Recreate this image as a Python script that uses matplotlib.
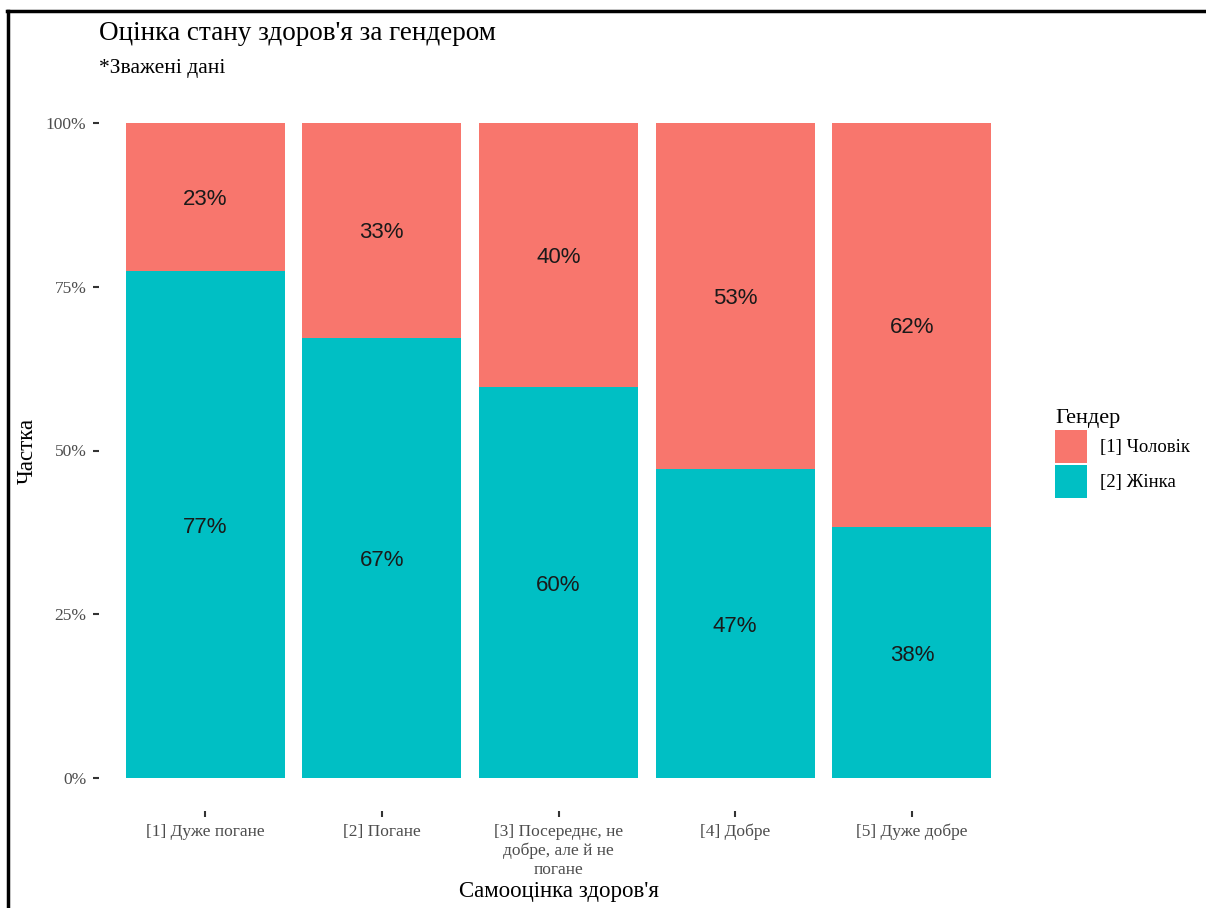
import matplotlib
matplotlib.use("Agg")
import matplotlib.pyplot as plt
from matplotlib.lines import Line2D
from matplotlib.patches import Patch

categories = ["[1] Дуже погане", "[2] Погане", "[3] Посереднє, не\nдобре, але й не\nпогане",
              "[4] Добре", "[5] Дуже добре"]
women = [0.774, 0.672, 0.597, 0.472, 0.383]
men = [0.226, 0.328, 0.403, 0.528, 0.617]
series_names = ["[1] Чоловік", "[2] Жінка"]
colors = ["#F8766D", "#00BFC4"]
yticks = [0, 0.25, 0.5, 0.75, 1.0]
ytick_labels = ["0%", "25%", "50%", "75%", "100%"]

plt.rcParams['font.family'] = ['Liberation Serif', 'DejaVu Serif']

W, H = 1206, 908
fig = plt.figure(figsize=(W / 100, H / 100), dpi=100)

# plot panel in pixel coords
left, right, top, bottom = 99, 1018, 90, 811
ax = fig.add_axes([left / W, (H - bottom) / H, (right - left) / W, (bottom - top) / H])

x = range(len(categories))
ax.bar(x, women, width=0.9, color=colors[1])
ax.bar(x, men, width=0.9, bottom=women, color=colors[0])

for i in x:
    ax.text(i, women[i] / 2, f"{round(women[i] * 100)}%", ha="center", va="center_baseline",
            fontsize=16, family="Liberation Sans", color="#1a1a1a")
    ax.text(i, women[i] + men[i] / 2, f"{round(men[i] * 100)}%", ha="center", va="center_baseline",
            fontsize=16, family="Liberation Sans", color="#1a1a1a")

ax.set_xlim(-0.6, len(categories) - 0.4)
ax.set_ylim(-0.05, 1.05)
ax.set_xticks(list(x))
ax.set_xticklabels(categories, fontsize=12.5, color="#4d4d4d", linespacing=1.25)
ax.set_yticks(yticks)
ax.set_yticklabels(ytick_labels, fontsize=12.5, color="#4d4d4d")
ax.tick_params(axis="both", length=4, width=1.5, color="#333333", pad=5)
for s in ax.spines.values():
    s.set_visible(False)

ax.set_xlabel("Самооцінка здоров'я", fontsize=16.5, labelpad=2)
ax.set_ylabel("Частка", fontsize=16.5, labelpad=6)

fig.text(99 / W, 1 - 34 / H, "Оцінка стану здоров'я за гендером", fontsize=19.5, va="center", ha="left")
fig.text(99 / W, 1 - 68 / H, "*Зважені дані", fontsize=15.5, va="center", ha="left")

handles = [Patch(facecolor=colors[0]), Patch(facecolor=colors[1])]
leg = fig.legend(handles, series_names, title="Гендер", loc="upper left",
                 bbox_to_anchor=(1038 / W, 1 - 392 / H), frameon=False, fontsize=13.5,
                 title_fontsize=16, handlelength=1.7, handleheight=2.33, handletextpad=0.7,
                 labelspacing=0.1, alignment="left")

# outer frame (top and left edges)
fig.add_artist(Line2D([7 / W, 1], [1 - 11 / H, 1 - 11 / H], color="black", lw=2.5, transform=fig.transFigure))
fig.add_artist(Line2D([8 / W, 8 / W], [0, 1 - 11 / H], color="black", lw=2.5, transform=fig.transFigure))

fig.savefig("out.png", dpi=100)
